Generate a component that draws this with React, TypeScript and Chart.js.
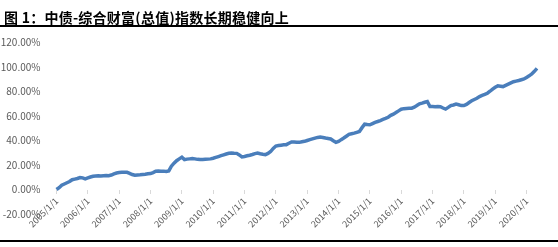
import React, { useEffect, useRef } from "react";
import { Chart, registerables } from "chart.js";

Chart.register(...registerables);

const TITLE = "图 1：中债-综合财富(总值)指数长期稳健向上";

const YEARS = [2005, 2006, 2007, 2008, 2009, 2010, 2011, 2012, 2013, 2014, 2015, 2016, 2017, 2018, 2019, 2020];

// Monthly index return (%) by year, from 2005/1 through 2020/5
const v2005 = [0, 1.5, 3.5, 4.5, 5.5, 6.5, 8, 8.5, 9, 9.8, 9.5, 8.7];
const v2006 = [9.5, 10.2, 10.8, 11.0, 11.2, 11.0, 11.3, 11.4, 11.2, 11.8, 12.8, 13.5];
const v2007 = [13.8, 14.0, 14.1, 14.0, 13.2, 12.2, 11.6, 11.9, 12.0, 12.2, 12.4, 12.8];
const v2008 = [13.0, 13.8, 14.9, 15.1, 15.0, 15.0, 14.8, 15.2, 19.0, 21.5, 23.5, 25.0];
const v2009 = [26.3, 24.4, 24.8, 25.0, 25.2, 25.0, 24.6, 24.4, 24.4, 24.6, 24.8, 25.0];
const v2010 = [25.5, 26.2, 26.9, 27.6, 28.3, 29.0, 29.6, 29.8, 29.6, 29.5, 28.2, 26.6];
const v2011 = [27.0, 27.5, 28.0, 28.6, 29.3, 29.8, 29.2, 28.8, 28.5, 29.5, 31.0, 33.5];
const v2012 = [35.5, 35.9, 36.2, 36.5, 36.6, 37.7, 38.8, 38.7, 38.5, 38.5, 39.0, 39.3];
const v2013 = [40.0, 40.7, 41.3, 41.9, 42.5, 42.8, 42.5, 42.0, 41.6, 41.2, 39.8, 38.5];
const v2014 = [39.3, 40.7, 42.0, 43.5, 45.0, 45.5, 46.0, 46.7, 47.4, 50.5, 53.3, 53.0];
const v2015 = [52.8, 53.8, 54.8, 55.5, 56.3, 57.2, 58.0, 59.0, 60.5, 61.5, 62.8, 64.2];
const v2016 = [65.5, 66.0, 66.2, 66.3, 66.4, 67.2, 68.5, 69.9, 70.5, 71.2, 71.8, 67.7];
const v2017 = [67.8, 67.5, 67.7, 67.6, 66.5, 65.6, 67.0, 68.5, 69.0, 69.7, 69.2, 68.5];
const v2018 = [68.5, 69.5, 71.0, 72.4, 73.5, 74.5, 75.9, 76.8, 77.6, 78.6, 80.2, 82.0];
const v2019 = [83.5, 84.6, 84.3, 84.0, 85.0, 86.0, 87.0, 88.0, 88.5, 89.0, 89.6, 90.2];
const v2020 = [91.5, 92.8, 94.3, 96.5, 98.9];

const SERIES_BY_YEAR = [v2005, v2006, v2007, v2008, v2009, v2010, v2011, v2012, v2013, v2014, v2015, v2016, v2017, v2018, v2019, v2020];

const Y_MIN = -20;
const Y_MAX = 120;
const Y_STEP = 20;

export default function App() {
  const ref = useRef<HTMLCanvasElement | null>(null);

  useEffect(() => {
    const labels: string[] = [];
    const values: number[] = [];
    SERIES_BY_YEAR.forEach((arr, yi) => {
      arr.forEach((v, mi) => {
        labels.push(`${YEARS[yi]}/${mi + 1}/1`);
        values.push(v);
      });
    });

    const chart = new Chart(ref.current as HTMLCanvasElement, {
      type: "line",
      data: {
        labels,
        datasets: [
          {
            data: values,
            borderColor: "#4A7EBB",
            borderWidth: 3.5,
            pointRadius: 0,
            tension: 0,
            fill: false,
          },
        ],
      },
      options: {
        animation: false,
        responsive: false,
        maintainAspectRatio: false,
        layout: { padding: { left: 0, right: 21, top: 42.5, bottom: 33 } },
        plugins: { legend: { display: false }, tooltip: { enabled: false }, title: { display: false } },
        scales: {
          x: {
            type: "category",
            position: { y: 0 } as any,
            offset: false,
            afterBuildTicks: (scale: any) => {
              scale.ticks = scale.ticks.filter((t: any) => t.value % 12 === 0);
            },
            grid: { display: true, drawOnChartArea: false, drawTicks: true, tickLength: 4, color: "#d9d9d9" },
            border: { display: false },
            ticks: {
              autoSkip: false,
              maxRotation: 45,
              minRotation: 45,
              padding: 2,
              color: "#595959",
              font: { family: "'Noto Sans CJK SC', 'DejaVu Sans', sans-serif", size: 9 },
              callback: function (this: any, value: any) {
                return labels[value as number];
              },
            },
          },
          y: {
            min: Y_MIN,
            max: Y_MAX,
            afterFit: (scale: any) => {
              scale.width = 56.5;
            },
            grid: { display: false },
            border: { display: false },
            ticks: {
              stepSize: Y_STEP,
              padding: 8,
              color: "#595959",
              font: { family: "'Noto Sans CJK SC', 'DejaVu Sans', sans-serif", size: 10 },
              callback: (v: any) => `${Number(v).toFixed(2)}%`,
            },
          },
        },
      },
    });
    return () => chart.destroy();
  }, []);

  return (
    <div style={{ position: "absolute", left: 0, top: 0, width: 558, height: 247, background: "#fff", overflow: "hidden" }}>
      <canvas ref={ref} width={558} height={247} style={{ position: "absolute", left: 0, top: 0, width: 558, height: 247 }} />
      <div
        style={{
          position: "absolute",
          left: 4,
          top: 8,
          fontFamily: "'Noto Sans CJK SC', sans-serif",
          fontWeight: "bold",
          fontSize: 14,
          lineHeight: "18px",
          letterSpacing: "0.25px",
          color: "#000",
          whiteSpace: "nowrap",
        }}
      >
        {TITLE}
      </div>
      <div style={{ position: "absolute", left: 0, top: 25, width: 558, height: 2, background: "#000" }} />
      <div style={{ position: "absolute", left: 0, top: 240, width: 558, height: 2, background: "#000" }} />
    </div>
  );
}
